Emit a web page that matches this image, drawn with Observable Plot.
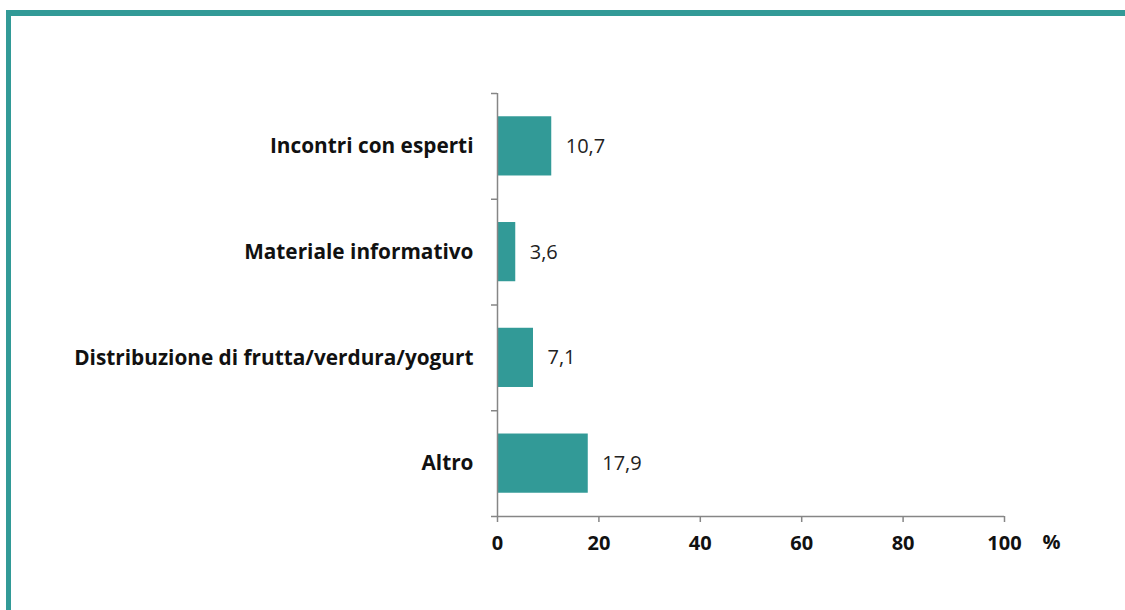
<!DOCTYPE html>
<html>
<head>
<meta charset="utf-8">
<script src="https://cdn.jsdelivr.net/npm/d3@7"></script>
<script src="https://cdn.jsdelivr.net/npm/@observablehq/plot@0.6"></script>
<style>
  html, body { margin: 0; padding: 0; background: #fff; }
  #wrap { position: relative; width: 1125px; height: 610px; overflow: hidden; }
  #frame { position: absolute; left: 6px; top: 10px; right: 0; bottom: -10px;
           border-top: 6px solid #329A97; border-left: 5px solid #329A97; pointer-events: none; }
  #chart { position: absolute; left: 0; top: 0; }
</style>
</head>
<body>
<div id="wrap"><div id="chart"></div><div id="frame"></div></div>
<script>
const categories = ["Incontri con esperti", "Materiale informativo", "Distribuzione di frutta/verdura/yogurt", "Altro"];
const values = [10.7, 3.6, 7.1, 17.9];
const xTicks = [0, 20, 40, 60, 80, 100];
const unitLabel = ["%"];

const teal = "#329A97";
const axisGray = "#868686";
const font = "'Open Sans', sans-serif";
const data = categories.map((c, i) => ({category: c, value: values[i], i}));
const fmt = v => v.toFixed(1).replace(".", ",");

const chart = Plot.plot({
  width: 1125,
  height: 610,
  marginLeft: 497,
  marginRight: 121,
  marginTop: 93,
  marginBottom: 94,
  style: {background: "transparent", fontFamily: font},
  x: {domain: [0, 100]},
  y: {domain: [0, categories.length], reverse: true},
  marks: [
    Plot.rectX(data, {x1: 0, x2: "value", y1: d => d.i + 0.22, y2: d => d.i + 0.78, fill: teal}),
    Plot.ruleX([0], {stroke: axisGray, strokeWidth: 1.5}),
    Plot.ruleY([categories.length], {stroke: axisGray, strokeWidth: 1.5}),
    Plot.axisY({ticks: d3.range(categories.length + 1), tickSize: 6, tickFormat: () => "", stroke: axisGray, strokeWidth: 1.5, label: null}),
    Plot.axisX({ticks: xTicks, tickSize: 6, tickPadding: 13, stroke: axisGray, strokeWidth: 1.5, label: null,
      fontSize: 20, fontWeight: "bold", fill: "#111", fontFamily: font}),
    Plot.text(data, {x: 0, y: d => d.i + 0.5, text: "category", textAnchor: "end", dx: -24,
      fontSize: 20.8, fontWeight: "bold", fill: "#111", fontFamily: font}),
    Plot.text(data, {x: "value", y: d => d.i + 0.5, text: d => fmt(d.value), textAnchor: "start", dx: 14,
      fontSize: 20, fill: "#222", fontFamily: font}),
    Plot.text(unitLabel, {x: xTicks[xTicks.length - 1], y: categories.length, text: d => d, textAnchor: "start",
      dx: 38, dy: 26, fontSize: 20, fontWeight: "bold", fill: "#111", fontFamily: font})
  ]
});
document.getElementById("chart").appendChild(chart);
</script>
</body>
</html>
